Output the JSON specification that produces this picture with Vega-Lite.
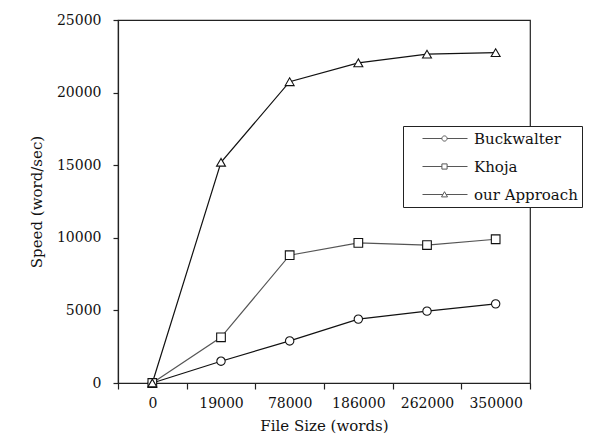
{
  "$schema": "https://vega.github.io/schema/vega-lite/v6.json",
  "width": 412,
  "height": 363,
  "autosize": {"type": "none"},
  "padding": {"left": 118, "top": 20, "right": 70, "bottom": 61},
  "background": "white",
  "config": {
    "font": "DejaVu Serif",
    "view": {"stroke": "#222", "strokeWidth": 1.2},
    "axis": {
      "grid": false,
      "domainColor": "#222",
      "tickColor": "#222",
      "labelColor": "#111",
      "titleColor": "#111",
      "labelFont": "DejaVu Serif",
      "titleFont": "DejaVu Serif",
      "titleFontWeight": "normal",
      "labelFontSize": 14,
      "titleFontSize": 15,
      "domainWidth": 1.2,
      "tickWidth": 1.2
    }
  },
  "data": {
    "values": [
      {"size": "0", "method": "Buckwalter", "speed": 0},
      {"size": "19000", "method": "Buckwalter", "speed": 1500},
      {"size": "78000", "method": "Buckwalter", "speed": 2900},
      {"size": "186000", "method": "Buckwalter", "speed": 4400},
      {"size": "262000", "method": "Buckwalter", "speed": 4950},
      {"size": "350000", "method": "Buckwalter", "speed": 5450},
      {"size": "0", "method": "Khoja", "speed": 0},
      {"size": "19000", "method": "Khoja", "speed": 3150},
      {"size": "78000", "method": "Khoja", "speed": 8800},
      {"size": "186000", "method": "Khoja", "speed": 9650},
      {"size": "262000", "method": "Khoja", "speed": 9500},
      {"size": "350000", "method": "Khoja", "speed": 9900},
      {"size": "0", "method": "our Approach", "speed": 0},
      {"size": "19000", "method": "our Approach", "speed": 15200},
      {"size": "78000", "method": "our Approach", "speed": 20750},
      {"size": "186000", "method": "our Approach", "speed": 22050},
      {"size": "262000", "method": "our Approach", "speed": 22650},
      {"size": "350000", "method": "our Approach", "speed": 22750}
    ]
  },
  "encoding": {
    "x": {
      "field": "size",
      "type": "ordinal",
      "scale": {"type": "band", "domain": ["0", "19000", "78000", "186000", "262000", "350000"], "paddingInner": 0, "paddingOuter": 0},
      "axis": {"title": "File Size (words)", "labelAngle": 0, "tickBand": "extent", "tickSize": 6, "labelPadding": 7, "titlePadding": 8}
    },
    "y": {
      "field": "speed",
      "type": "quantitative",
      "scale": {"domain": [0, 25000], "nice": false},
      "axis": {"title": "Speed (word/sec)", "format": "d", "values": [0, 5000, 10000, 15000, 20000, 25000], "tickSize": 5, "labelPadding": 12, "titlePadding": 12}
    }
  },
  "layer": [
    {
      "mark": {"type": "line", "strokeWidth": 1.2},
      "encoding": {
        "detail": {"field": "method"},
        "color": {"field": "method", "type": "nominal", "scale": {"domain": ["Buckwalter", "Khoja", "our Approach"], "range": ["#111", "#555", "#111"]}, "legend": null}
      }
    },
    {
      "mark": {"type": "point", "filled": true, "fill": "white", "stroke": "#111", "strokeWidth": 1.1, "opacity": 1},
      "encoding": {
        "shape": {"field": "method", "type": "nominal", "scale": {"domain": ["Buckwalter", "Khoja", "our Approach"], "range": ["circle", "square", "triangle-up"]}, "legend": null},
        "size": {"field": "method", "type": "nominal", "scale": {"domain": ["Buckwalter", "Khoja", "our Approach"], "range": [70, 80, 85]}, "legend": null}
      }
    },
    {
      "transform": [{"filter": "datum.speed < 0"}],
      "mark": {"type": "point", "filled": false, "color": "#111", "strokeWidth": 1},
      "encoding": {
        "shape": {
          "field": "method",
          "type": "nominal",
          "scale": {
            "domain": ["Buckwalter", "Khoja", "our Approach"],
            "range": [
              "M0.875,0H3.3M3.95,0H6.5M3.95,0A0.325,0.325 0 1,1 3.3,0A0.325,0.325 0 1,1 3.95,0",
              "M0.875,0H3.3M3.95,0H6.5M3.3,-0.325H3.95V0.325H3.3Z",
              "M0.875,0H3.42M3.83,0H6.5M3.625,-0.35L4,0.3L3.25,0.3Z"
            ]
          },
          "legend": {
            "title": null,
            "orient": "none",
            "legendX": 285,
            "legendY": 106,
            "padding": 4,
            "strokeColor": "#222",
            "fillColor": "white",
            "labelFont": "DejaVu Serif",
            "labelFontSize": 15,
            "labelColor": "#111",
            "labelOffset": 50,
            "rowPadding": 11,
            "symbolSize": 256,
            "symbolStrokeWidth": 1,
            "symbolStrokeColor": "#111",
            "symbolFillColor": "white"
          }
        }
      }
    }
  ],
  "resolve": {"scale": {"shape": "independent", "color": "independent", "size": "independent"}}
}
